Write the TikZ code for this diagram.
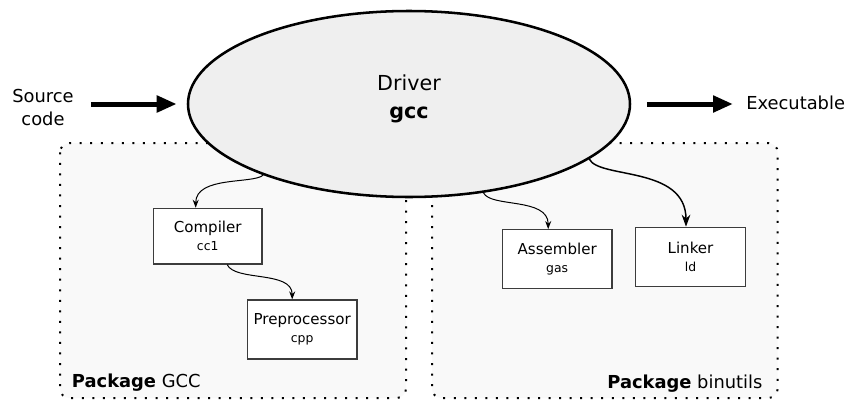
\documentclass[tikz,border=0pt]{standalone}
\usepackage{fontspec}
\setmainfont{DejaVu Sans}
\usetikzlibrary{arrows.meta,calc,shapes.geometric}
\definecolor{ellfill}{RGB}{239,239,239}
\definecolor{pkgfill}{RGB}{249,249,249}
\definecolor{boxdraw}{RGB}{60,60,60}
\newcommand{\subnm}[1]{{\fontsize{9.3}{10}\selectfont #1}}
\begin{document}
\begin{tikzpicture}[x=0.75pt,y=-0.75pt,
  pkg/.style={draw=black, fill=pkgfill, line width=1.5pt, line cap=butt, dash pattern=on 1.5pt off 6.4pt, rounded corners=7pt},
  tool/.style={draw=boxdraw, fill=white, line width=0.9pt, align=center, font=\fontsize{11.3}{13.5}\selectfont, inner sep=0pt},
  conn/.style={line width=0.75pt, -{Stealth[length=6pt,width=4.5pt]}},
  bigconn/.style={line width=1.1pt, -{Stealth[length=9pt,width=6.5pt]}},
  bigarrow/.style={line width=3.75pt, -{Triangle[length=15pt,width=12pt]}},
  side/.style={font=\fontsize{13.4}{17.25}\selectfont, inner sep=0pt, align=center}
]
\useasboundingbox (0,0) rectangle (849,400);
% package containers
\draw[pkg] (60,143) rectangle (406,398);
\draw[pkg] (432,143) rectangle (777.7,398);
% driver
\node[ellipse, draw, line width=1.9pt, fill=ellfill, minimum width=331.5pt, minimum height=139.5pt, inner sep=0pt] (driver) at (409,104) {};
\node[font=\fontsize{15.5}{21}\selectfont, align=center, inner sep=0pt] (drivertext) at (409,98.5) {Driver\\\textbf{gcc}};
% inputs / outputs
\node[side] (source) at (43,107.5) {Source\\code};
\node[side, anchor=west] (exe) at (746,103.3) {Executable};
\draw[bigarrow, shorten <=12.75pt, shorten >=7.5pt] (source.east |- driver.west) -- (driver.west);
\draw[bigarrow, shorten <=11.75pt, shorten >=9.75pt] (driver.east) -- (exe.west |- driver.east);
% tools
\node[tool, minimum width=81.5pt, minimum height=41.8pt] (compiler) at (207.7,236.2) {Compiler\\\subnm{cc1}};
\node[tool, minimum width=82.3pt, minimum height=44.3pt] (prep) at (302.2,329.5) {Preprocessor\\\subnm{cpp}};
\node[tool, minimum width=82.3pt, minimum height=44.3pt] (asm) at (557.2,259.2) {Assembler\\\subnm{gas}};
\node[tool, minimum width=82.2pt, minimum height=44.3pt] (linker) at (690.5,256.8) {Linker\\\subnm{ld}};
% connectors
\draw[conn] (driver.206) .. controls +(-10,9) and +(0,-32) .. ($(compiler.north)+(-12,0)$);
\draw[conn] ($(compiler.south)+(19.5,0)$) .. controls +(8,17) and +(0,-29) .. ($(prep.north)+(-10,0)$);
\draw[conn] (driver.-50) .. controls +(7,15) and +(0,-32) .. ($(asm.north)+(-9,0)$);
\draw[bigconn] (driver.-17) .. controls +(10,20) and +(0,-61) .. ($(linker.north)+(-4.5,0)$);
% package labels
\node[side, anchor=base west] (pkggcc) at (71.7,387.3) {\textbf{Package} GCC};
\node[side, anchor=base east] (pkgbin) at (762.7,388) {\textbf{Package} binutils};
\end{tikzpicture}
\end{document}
